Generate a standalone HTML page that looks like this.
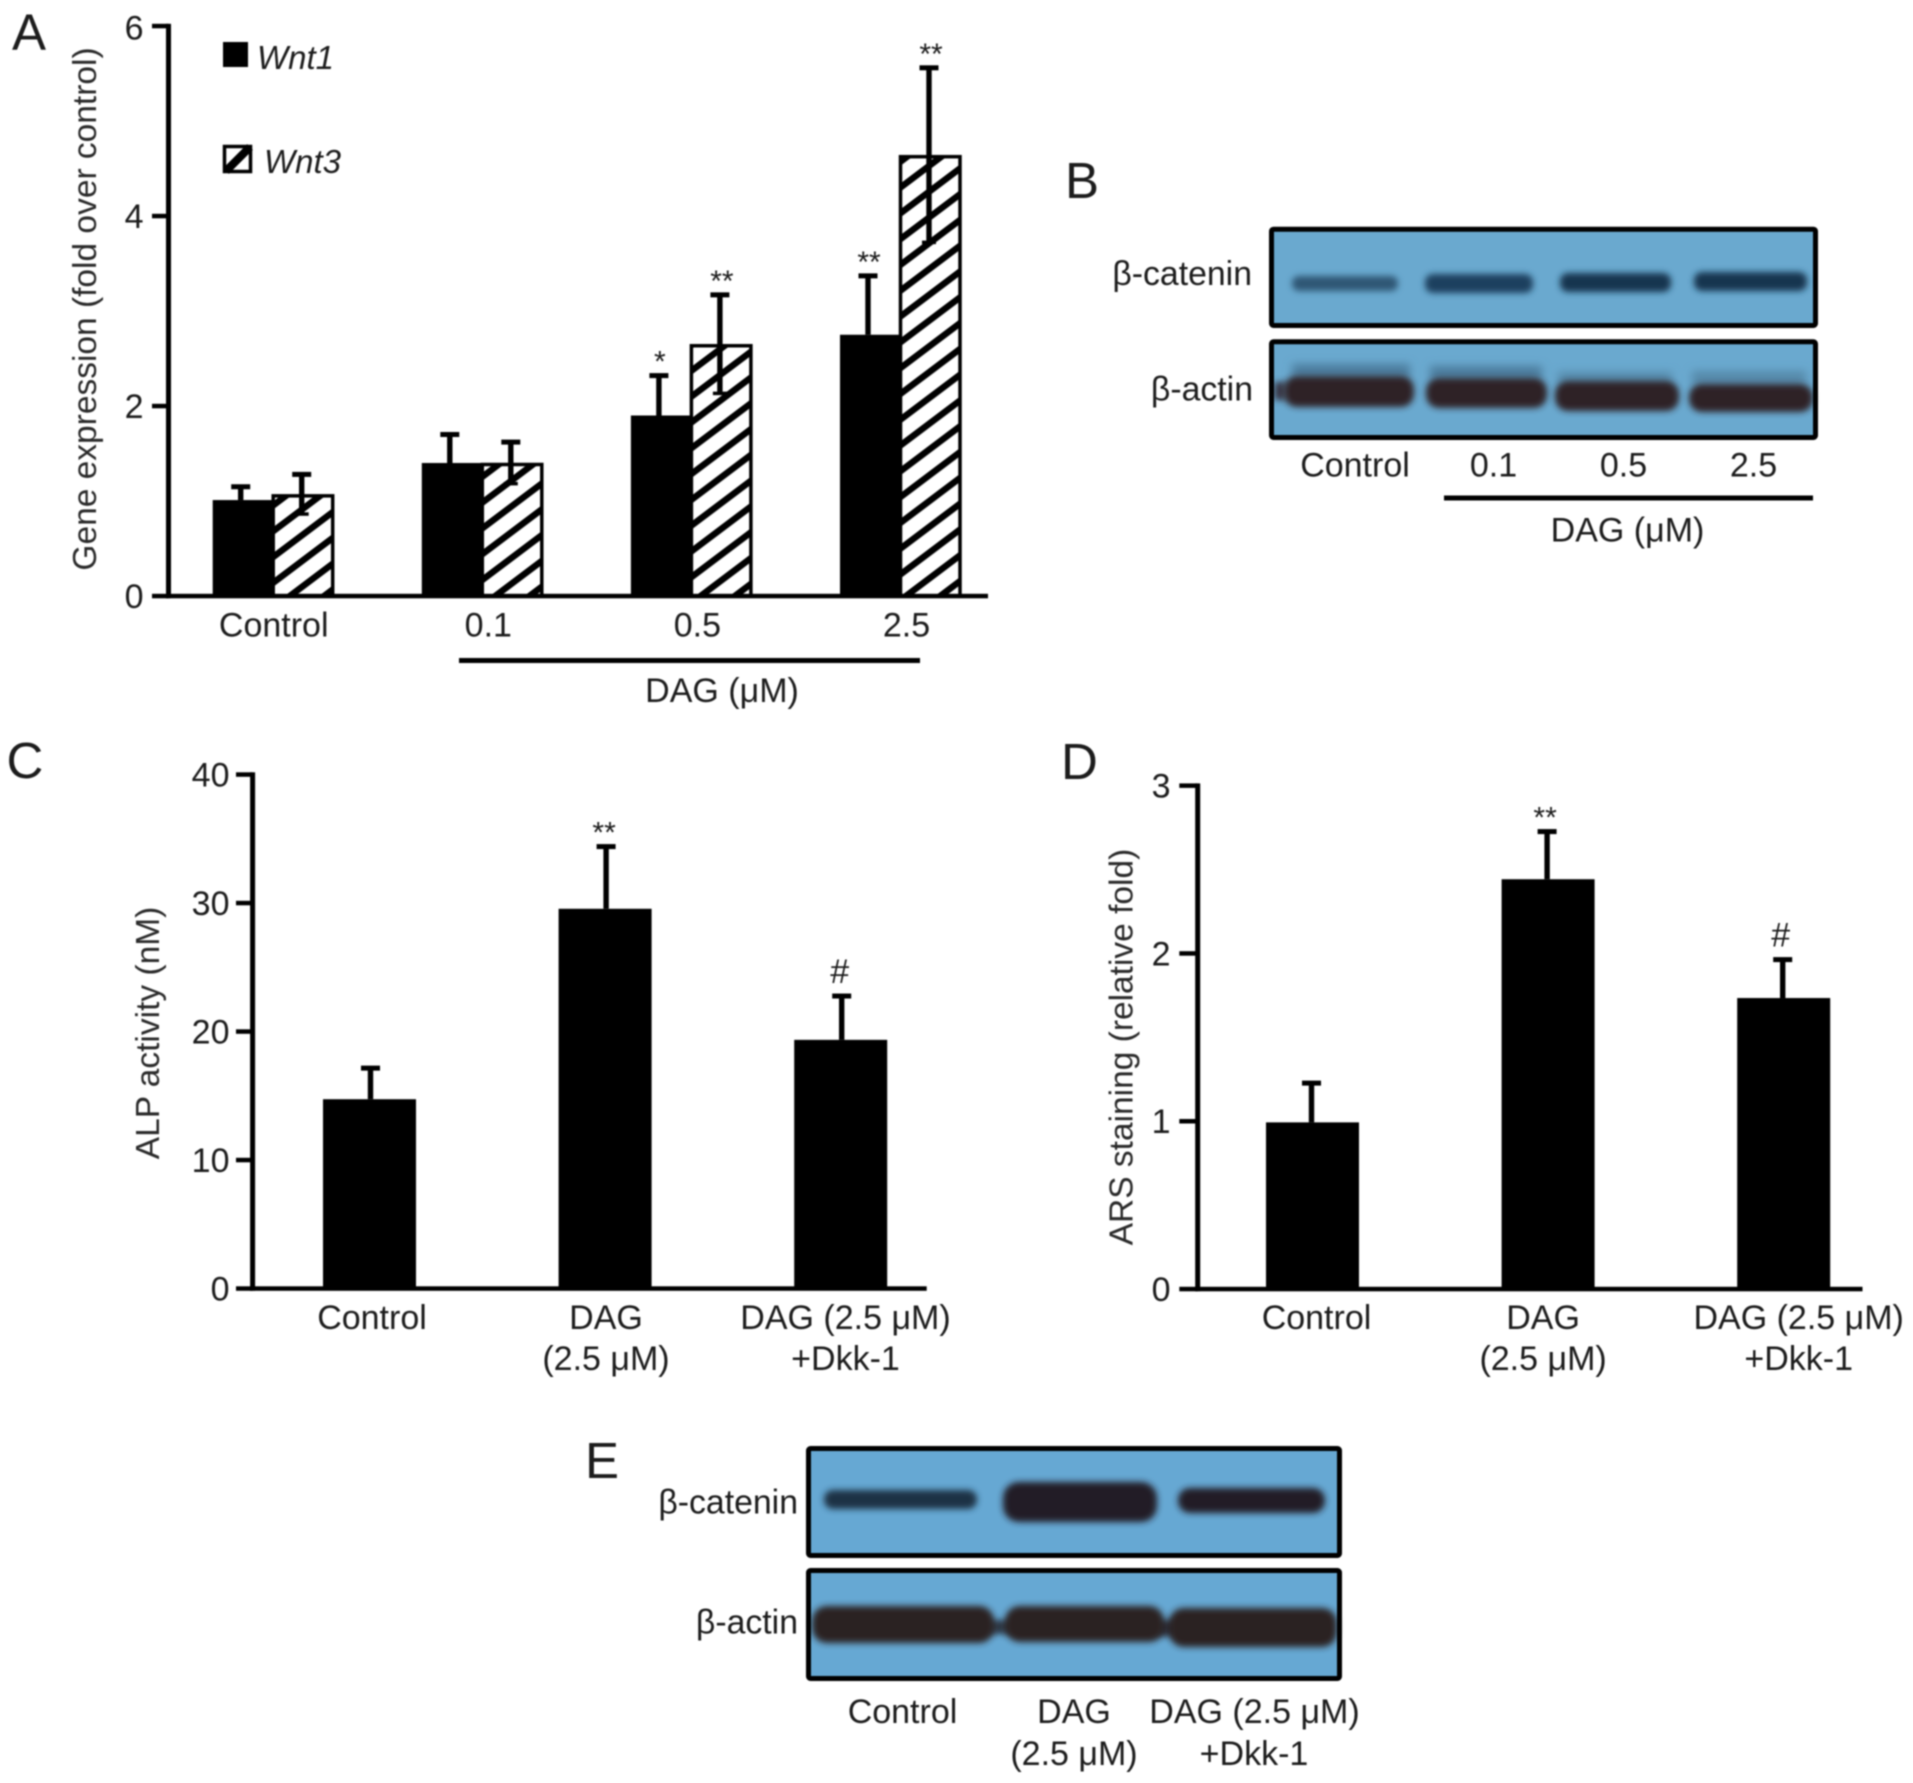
<!DOCTYPE html>
<html lang="en">
<head>
<meta charset="utf-8">
<title>DAG Wnt expression figure</title>
<style>
html,body{margin:0;padding:0;background:#fff;width:1913px;height:1783px;overflow:hidden}
svg{display:block;filter:blur(0.9px)}
text{font-family:"Liberation Sans",sans-serif;fill:#1c1c1c}
.tick{font-size:34px}
.title{font-size:33.5px;fill:#2a2a2a}
.letter{font-size:51px}
.sig{font-size:30px}
.hash{font-size:34px}
.leg{font-size:33px;font-style:italic}
.blot-label{font-size:33.8px}
</style>
</head>
<body>
<svg id="figure" xmlns="http://www.w3.org/2000/svg" width="1913" height="1783" viewBox="0 0 1913 1783">
<defs>
<pattern id="hatch" patternUnits="userSpaceOnUse" width="20.6" height="20.6" patternTransform="translate(5 7) rotate(53)">
<rect width="20.6" height="20.6" fill="#fff"/>
<rect x="0" y="0" width="6.5" height="20.6" fill="#000"/>
</pattern>
<filter id="soft" x="-20%" y="-80%" width="140%" height="260%"><feGaussianBlur stdDeviation="3.2"/></filter>
<filter id="softer" x="-20%" y="-80%" width="140%" height="260%"><feGaussianBlur stdDeviation="4.5"/></filter>
</defs>
<rect width="1913" height="1783" fill="#fff"/>

<g id="panel-a">
<text class="letter" x="12" y="50">A</text>
<rect x="223" y="42" width="25" height="25" fill="#000"/>
<text class="leg" x="257" y="69">Wnt1</text>
<g>
<rect x="224.5" y="146.5" width="26" height="25" fill="#fff" stroke="#000" stroke-width="3.5"/>
<path d="M226 171 L250 147" stroke="#000" stroke-width="8" fill="none"/>
</g>
<text class="leg" x="264" y="173">Wnt3</text>
<rect x="459" y="658" width="461" height="5" fill="#000"/>
<text class="tick" x="722" y="702" text-anchor="middle">DAG (μM)</text>
</g>
<g id="plot-a"></g>

<g id="panel-b">
<text class="letter" x="1065" y="198">B</text>
<g>
<rect x="1271.5" y="229.2" width="544" height="96.3" fill="#6aa9cf"/>
<rect x="1292" y="276" width="106" height="15" rx="7" fill="#2e5675" filter="url(#soft)"/>
<rect x="1425" y="274" width="108" height="19" rx="8" fill="#1c3f5e" filter="url(#soft)"/>
<rect x="1560" y="273" width="111" height="19" rx="8" fill="#163650" filter="url(#soft)"/>
<rect x="1694" y="272" width="113" height="19" rx="8" fill="#163650" filter="url(#soft)"/>
<rect x="1271.5" y="229.2" width="544" height="96.3" rx="2" fill="none" stroke="#000" stroke-width="5"/>
</g>
<g>
<rect x="1271.5" y="341.8" width="544" height="95.7" fill="#6aa9cf"/>
<rect x="1292" y="364" width="118" height="14" fill="#4c7c9c" filter="url(#softer)"/>
<rect x="1430" y="366" width="112" height="14" fill="#4c7c9c" filter="url(#softer)"/>
<rect x="1558" y="372" width="114" height="12" fill="#5488a8" filter="url(#softer)"/>
<rect x="1692" y="371" width="114" height="14" fill="#5488a8" filter="url(#softer)"/>
<rect x="1274" y="382" width="12" height="18" fill="#3a3a48" filter="url(#soft)"/>
<rect x="1284" y="376" width="130" height="31" rx="13" fill="#2d2326" filter="url(#soft)"/>
<rect x="1426" y="378" width="121" height="30" rx="13" fill="#2d2326" filter="url(#soft)"/>
<rect x="1555" y="381" width="124" height="30" rx="13" fill="#2d2326" filter="url(#soft)"/>
<rect x="1689" y="384" width="124" height="28" rx="13" fill="#2d2326" filter="url(#soft)"/>
<rect x="1271.5" y="341.8" width="544" height="95.7" rx="2" fill="none" stroke="#000" stroke-width="5"/>
</g>
<text class="blot-label" x="1252" y="285" text-anchor="end">β-catenin</text>
<text class="blot-label" x="1253" y="400.5" text-anchor="end">β-actin</text>
<text class="tick" x="1355" y="476.5" text-anchor="middle">Control</text>
<text class="tick" x="1493.5" y="476.5" text-anchor="middle">0.1</text>
<text class="tick" x="1623.5" y="476.5" text-anchor="middle">0.5</text>
<text class="tick" x="1753.5" y="476.5" text-anchor="middle">2.5</text>
<rect x="1444" y="495.5" width="369" height="5" fill="#000"/>
<text class="tick" x="1627.5" y="541.5" text-anchor="middle">DAG (μM)</text>
</g>

<text class="letter" x="6.5" y="778">C</text>
<g id="plot-c"></g>
<text class="letter" x="1061" y="779">D</text>
<g id="plot-d"></g>

<g id="panel-e">
<text class="letter" x="585" y="1478">E</text>
<g>
<rect x="808.5" y="1448.5" width="531" height="107" fill="#66a8d3"/>
<rect x="824" y="1490" width="153" height="19" rx="9" fill="#1f3344" filter="url(#soft)"/>
<rect x="1003" y="1482" width="154" height="40" rx="16" fill="#231f26" filter="url(#soft)"/>
<rect x="1178" y="1488" width="147" height="25" rx="12" fill="#211f28" filter="url(#soft)"/>
<rect x="808.5" y="1448.5" width="531" height="107" rx="2" fill="none" stroke="#000" stroke-width="5"/>
</g>
<g>
<rect x="808.5" y="1570.5" width="531" height="108" fill="#66a8d3"/>
<rect x="985" y="1620" width="30" height="14" fill="#2e3a4a" filter="url(#soft)"/>
<rect x="1155" y="1620" width="24" height="16" fill="#2a2e3a" filter="url(#soft)"/>
<rect x="812" y="1606" width="182" height="37" rx="15" fill="#2b2122" filter="url(#soft)"/>
<rect x="1005" y="1606" width="159" height="36" rx="15" fill="#2b2122" filter="url(#soft)"/>
<rect x="1169" y="1608" width="168" height="39" rx="15" fill="#2b2122" filter="url(#soft)"/>
<rect x="808.5" y="1570.5" width="531" height="108" rx="2" fill="none" stroke="#000" stroke-width="5"/>
</g>
<text class="blot-label" x="798" y="1513.5" text-anchor="end">β-catenin</text>
<text class="blot-label" x="798" y="1633.5" text-anchor="end">β-actin</text>
<text class="tick" x="902.5" y="1723" text-anchor="middle">Control</text>
<text class="tick" x="1074" y="1723" text-anchor="middle">DAG</text>
<text class="tick" x="1074" y="1765" text-anchor="middle">(2.5 μM)</text>
<text class="tick" x="1254.5" y="1723" text-anchor="middle">DAG (2.5 μM)</text>
<text class="tick" x="1254" y="1765" text-anchor="middle">+Dkk-1</text>
</g>
</svg>

<script>
// Panel A data
const aCategories = ['Control', '0.1', '0.5', '2.5'];
const aWnt1Values = [1.01, 1.40, 1.90, 2.75];
const aWnt3Values = [1.07, 1.40, 2.65, 4.64];
const aWnt1Errors = [0.14, 0.30, 0.42, 0.62];
const aWnt3Errors = [0.21, 0.22, 0.52, 0.92];
const aWnt1Marks = ['', '', '*', '**'];
const aWnt3Marks = ['', '', '**', '**'];
const aTicks = [0, 2, 4, 6];

// Panel C data
const cCategories = [['Control'], ['DAG', '(2.5 μM)'], ['DAG (2.5 μM)', '+Dkk-1']];
const cValues = [14.73, 29.55, 19.35];
const cErrors = [2.42, 4.84, 3.41];
const cMarks = ['', '**', '#'];
const cTicks = [0, 10, 20, 30, 40];

// Panel D data
const dCategories = [['Control'], ['DAG', '(2.5 μM)'], ['DAG (2.5 μM)', '+Dkk-1']];
const dValues = [0.993, 2.442, 1.734];
const dErrors = [0.234, 0.284, 0.229];
const dMarks = ['', '**', '#'];
const dTicks = [0, 1, 2, 3];

const NS = 'http://www.w3.org/2000/svg';
function node(parent, tag, attrs, content) {
  const el = document.createElementNS(NS, tag);
  for (const k in attrs) el.setAttribute(k, attrs[k]);
  if (content !== undefined) el.textContent = content;
  parent.appendChild(el);
  return el;
}
function drawAxes(g, key, cfg, ticks) {
  const top = cfg.y(ticks[ticks.length - 1]);
  const yAxis = node(g, 'rect', {x: cfg.axisX - 2.5, y: top - 2.2, width: 5, height: cfg.y(0) - top + 4.4, fill: '#000'});
  
  
  const xAxis = node(g, 'rect', {x: cfg.axisX - 2.5, y: cfg.y(0) - 2.2, width: cfg.axisEnd - cfg.axisX + 2.5, height: 4.5, fill: '#000'});
  
  
  ticks.forEach(function (t) {
    const mark = node(g, 'rect', {x: cfg.tickX, y: cfg.y(t) - 2.2, width: cfg.axisX - cfg.tickX, height: 4.5, fill: '#000'});
    
    
    const labelY = Math.max(cfg.y(t), cfg.labelMinY) + 12;
    const label = node(g, 'text', {class: 'tick', x: cfg.labelX, y: labelY, 'text-anchor': 'end'}, String(t));
    
    
  });
}
function drawError(g, name, x, y, value, err, both) {
  const stem = node(g, 'rect', {x: x - 2.7, y: y(value + err), width: 5.4, height: (both ? y(value - err) : y(value)) - y(value + err), fill: '#000'});
  
  
  const cap = node(g, 'rect', {x: x - 9.5, y: y(value + err) - 2.5, width: 19, height: 5, fill: '#000'});
  
  
  if (both) {
    const low = node(g, 'rect', {x: x - 7, y: y(value - err) - 2, width: 14, height: 3.5, fill: '#000'});
    
    
  }
}
function drawMark(g, name, x, y, value, err, text) {
  if (!text) return;
  const cls = text === '#' ? 'hash' : 'sig';
  const off = text === '#' ? 13 : 4;
  const el = node(g, 'text', {class: cls, x: x, y: y(value + err) - off, 'text-anchor': 'middle'}, text);
  
  
}

// Panel A
const yA = function (v) { return 596 - v * 95; };
const xGroupA = function (i) { return 272.7 + i * 209.1; };
(function () {
  const g = document.getElementById('plot-a');
  aCategories.forEach(function (cat, i) {
    const cx = xGroupA(i);
    const b3 = node(g, 'rect', {x: cx + 0.5, y: yA(aWnt3Values[i]) + 1.5, width: 59.5, height: yA(0) - yA(aWnt3Values[i]) - 1.5, fill: 'url(#hatch)', stroke: '#000', 'stroke-width': 3.5});
    
    
    const b1 = node(g, 'rect', {x: cx - 60, y: yA(aWnt1Values[i]), width: 60, height: yA(0) - yA(aWnt1Values[i]), fill: '#000'});
    
    
    drawError(g, 'wnt1-' + cat, cx - 32, yA, aWnt1Values[i], aWnt1Errors[i], false);
    drawError(g, 'wnt3-' + cat, cx + 29, yA, aWnt3Values[i], aWnt3Errors[i], true);
    drawMark(g, 'wnt1-' + cat, cx - 31, yA, aWnt1Values[i], aWnt1Errors[i], aWnt1Marks[i]);
    drawMark(g, 'wnt3-' + cat, cx + 31, yA, aWnt3Values[i], aWnt3Errors[i], aWnt3Marks[i]);
    const label = node(g, 'text', {class: 'tick', x: cx + (i === 0 ? 1 : 6.5), y: 636.5, 'text-anchor': 'middle'}, cat);
    
    
  });
  drawAxes(g, 'a', {axisX: 168.5, axisEnd: 988, tickX: 152, y: yA, labelX: 143.5, labelMinY: 27.5}, aTicks);
  const title = node(g, 'text', {class: 'title', transform: 'translate(96 309) rotate(-90)', 'text-anchor': 'middle'}, 'Gene expression (fold over control)');
  
  
})();

function drawSimple(rootId, key, categories, values, errors, marks, ticks, cfg, titleText) {
  const g = document.getElementById(rootId);
  categories.forEach(function (lines, i) {
    const cx = cfg.x(i);
    const bar = node(g, 'rect', {x: cx - 46.5, y: cfg.y(values[i]), width: 93, height: cfg.y(0) - cfg.y(values[i]), fill: '#000'});
    
    
    drawError(g, key + '-' + i, cx + cfg.errOffset, cfg.y, values[i], errors[i], false);
    drawMark(g, key + '-' + i, cx + cfg.errOffset - 2, cfg.y, values[i], errors[i], marks[i]);
    lines.forEach(function (line, j) {
      const t = node(g, 'text', {class: 'tick', x: cx + cfg.labelOffset[i], y: cfg.labelY + j * 41, 'text-anchor': 'middle'}, line);
      
      
    });
  });
  drawAxes(g, key, cfg, ticks);
  const title = node(g, 'text', {class: 'title', transform: 'translate(' + cfg.titleX + ' ' + cfg.titleY + ') rotate(-90)', 'text-anchor': 'middle'}, titleText);
  
  
}

// Panel C
const yC = function (v) { return 1288.5 - v * 12.85; };
const xC = function (i) { return 369.5 + i * 235.6; };
drawSimple('plot-c', 'c', cCategories, cValues, cErrors, cMarks, cTicks, {
  x: xC, y: yC, errOffset: 1, labelOffset: [2.5, 0.9, 4.8], labelY: 1329,
  axisX: 252.6, axisEnd: 926.7, tickX: 236, labelX: 229.5, labelMinY: 0, titleX: 159, titleY: 1033
}, 'ALP activity (nM)');

// Panel D
const yD = function (v) { return 1289 - v * 167.8; };
const xD = function (i) { return 1312.5 + i * 235.6; };
drawSimple('plot-d', 'd', dCategories, dValues, dErrors, dMarks, dTicks, {
  x: xD, y: yD, errOffset: -1, labelOffset: [4, -5, 15], labelY: 1329,
  axisX: 1197.7, axisEnd: 1862.5, tickX: 1179.3, labelX: 1170.5, labelMinY: 0, titleX: 1132.5, titleY: 1047
}, 'ARS staining (relative fold)');
</script>
</body>
</html>
